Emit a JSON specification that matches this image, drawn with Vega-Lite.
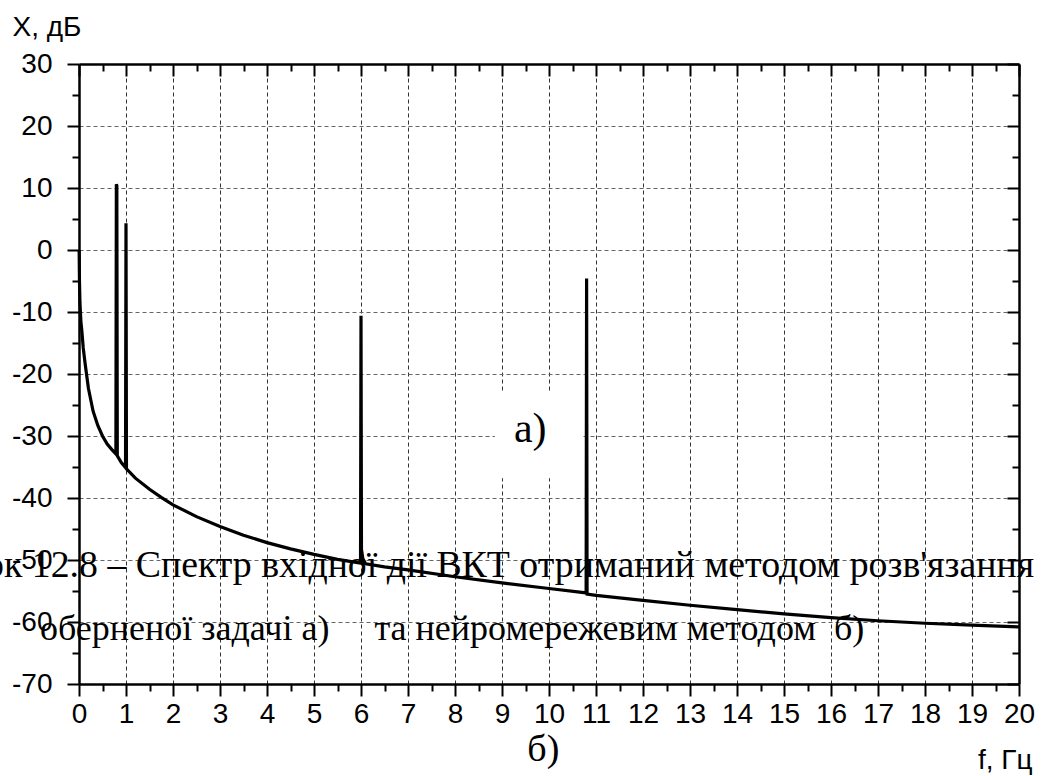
{
  "$schema": "https://vega.github.io/schema/vega-lite/v6.json",
  "autosize": "none",
  "width": 940,
  "height": 620,
  "padding": {"left": 79, "top": 64, "right": 27, "bottom": 92},
  "background": "white",
  "config": {"view": {"stroke": null}, "font": "Liberation Sans"},
  "resolve": {"axis": {"x": "independent", "y": "independent"}},
  "datasets": {
    "spectrum": [
      {"f": 0.003, "X": 0}, {"f": 0.01, "X": -5}, {"f": 0.02, "X": -8.5}, {"f": 0.04, "X": -11.5},
      {"f": 0.06, "X": -13}, {"f": 0.09, "X": -15.8}, {"f": 0.13, "X": -18.3}, {"f": 0.2, "X": -22.3},
      {"f": 0.3, "X": -26.0}, {"f": 0.4, "X": -28.3}, {"f": 0.5, "X": -30.0}, {"f": 0.6, "X": -31.3},
      {"f": 0.7, "X": -32.2}, {"f": 0.785, "X": -32.9}, {"f": 0.795, "X": 10.6}, {"f": 0.805, "X": 10.4},
      {"f": 0.815, "X": -33.2}, {"f": 0.9, "X": -34.3}, {"f": 0.99, "X": -35.1}, {"f": 1.0, "X": 4.3},
      {"f": 1.01, "X": -35.3}, {"f": 1.2, "X": -36.8}, {"f": 1.5, "X": -38.6}, {"f": 1.75, "X": -39.9},
      {"f": 2.0, "X": -41.1}, {"f": 2.5, "X": -43.0}, {"f": 3.0, "X": -44.6}, {"f": 3.5, "X": -46.0},
      {"f": 4.0, "X": -47.2}, {"f": 4.5, "X": -48.2}, {"f": 5.0, "X": -49.1}, {"f": 5.5, "X": -49.9},
      {"f": 5.99, "X": -50.5}, {"f": 6.0, "X": -10.6}, {"f": 6.01, "X": -48.3}, {"f": 6.04, "X": -49.8},
      {"f": 6.1, "X": -50.6}, {"f": 6.5, "X": -51.1}, {"f": 7.0, "X": -51.6}, {"f": 8.0, "X": -52.7},
      {"f": 9.0, "X": -53.7}, {"f": 10.0, "X": -54.6}, {"f": 10.79, "X": -55.3}, {"f": 10.8, "X": -4.6},
      {"f": 10.81, "X": -55.5}, {"f": 11.0, "X": -55.7}, {"f": 12.0, "X": -56.5}, {"f": 13.0, "X": -57.3},
      {"f": 14.0, "X": -58.0}, {"f": 15.0, "X": -58.7}, {"f": 16.0, "X": -59.3}, {"f": 17.0, "X": -59.8},
      {"f": 18.0, "X": -60.2}, {"f": 19.0, "X": -60.5}, {"f": 20.0, "X": -60.8}
    ],
    "box": [{"x1": 8.85, "x2": 10.72, "y1": -23.0, "y2": -36.8}],
    "caption": [
      {"f": 20.32, "X": -52.7, "label": "Рисунок 12.8 – Спектр вхідної дії ВКТ отриманий методом розв'язання"}
    ],
    "caption2": [
      {"f": -0.83, "X": -62.9, "label": "оберненої задачі а)\u00a0\u00a0\u00a0\u00a0 та нейромережевим методом\u00a0 б)"}
    ],
    "markA": [{"f": 9.6, "X": -31.0, "label": "а)"}],
    "markB": [{"f": 9.88, "X": -82.4, "label": "б)"}]
  },
  "layer": [
    {
      "data": {"name": "box"},
      "mark": {"type": "rect", "fill": "white", "stroke": null},
      "encoding": {
        "x": {"field": "x1", "type": "quantitative", "scale": {"domain": [0, 20], "nice": false, "zero": false},
          "axis": {
            "orient": "top", "values": [0,1,2,3,4,5,6,7,8,9,10,11,12,13,14,15,16,17,18,19,20],
            "labels": false, "title": null, "grid": false,
            "domain": true, "domainColor": "black", "domainWidth": 2.5,
            "ticks": true, "tickColor": "black", "tickWidth": 2, "tickSize": -12
          }},
        "x2": {"field": "x2"},
        "y": {"field": "y1", "type": "quantitative", "scale": {"domain": [-70, 30], "nice": false, "zero": false},
          "axis": {
            "orient": "right", "values": [-70,-60,-50,-40,-30,-20,-10,0,10,20,30],
            "labels": false, "title": null, "grid": false,
            "domain": true, "domainColor": "black", "domainWidth": 2.5,
            "ticks": true, "tickColor": "black", "tickWidth": 2, "tickSize": -12
          }},
        "y2": {"field": "y2"}
      }
    },
    {
      "data": {"name": "caption"},
      "mark": {"type": "text", "font": "Liberation Serif", "fontSize": 37.8, "align": "right", "baseline": "alphabetic", "color": "black", "clip": false},
      "encoding": {
        "x": {"field": "f", "type": "quantitative", "scale": {"domain": [0, 20], "nice": false, "zero": false},
          "axis": {
            "orient": "top", "values": [0.5,1.5,2.5,3.5,4.5,5.5,6.5,7.5,8.5,9.5,10.5,11.5,12.5,13.5,14.5,15.5,16.5,17.5,18.5,19.5],
            "labels": false, "title": null, "grid": false, "domain": false,
            "ticks": true, "tickColor": "black", "tickWidth": 2, "tickSize": -7
          }},
        "y": {"field": "X", "type": "quantitative", "scale": {"domain": [-70, 30], "nice": false, "zero": false},
          "axis": {
            "orient": "right", "values": [-65,-55,-45,-35,-25,-15,-5,5,15,25],
            "labels": false, "title": null, "grid": false, "domain": false,
            "ticks": true, "tickColor": "black", "tickWidth": 2, "tickSize": -7
          }},
        "text": {"field": "label"}
      }
    },
    {
      "data": {"name": "caption2"},
      "mark": {"type": "text", "font": "Liberation Serif", "fontSize": 36, "align": "left", "baseline": "alphabetic", "color": "black", "clip": false},
      "encoding": {
        "x": {"field": "f", "type": "quantitative", "scale": {"domain": [0, 20], "nice": false, "zero": false},
          "axis": {
            "orient": "bottom", "values": [0.5,1.5,2.5,3.5,4.5,5.5,6.5,7.5,8.5,9.5,10.5,11.5,12.5,13.5,14.5,15.5,16.5,17.5,18.5,19.5],
            "labels": false, "title": null, "grid": false, "domain": false,
            "ticks": true, "tickColor": "black", "tickWidth": 2, "tickSize": 7
          }},
        "y": {"field": "X", "type": "quantitative", "scale": {"domain": [-70, 30], "nice": false, "zero": false},
          "axis": {
            "orient": "left", "values": [-65,-55,-45,-35,-25,-15,-5,5,15,25],
            "labels": false, "title": null, "grid": false, "domain": false,
            "ticks": true, "tickColor": "black", "tickWidth": 2, "tickSize": 7
          }},
        "text": {"field": "label"}
      }
    },
    {
      "data": {"name": "markA"},
      "mark": {"type": "text", "font": "Liberation Serif", "fontSize": 42, "align": "center", "baseline": "alphabetic", "color": "black"},
      "encoding": {
        "x": {"field": "f", "type": "quantitative", "scale": {"domain": [0, 20], "nice": false, "zero": false}, "axis": null},
        "y": {"field": "X", "type": "quantitative", "scale": {"domain": [-70, 30], "nice": false, "zero": false}, "axis": null},
        "text": {"field": "label"}
      }
    },
    {
      "data": {"name": "markB"},
      "mark": {"type": "text", "font": "Liberation Serif", "fontSize": 38, "align": "center", "baseline": "alphabetic", "color": "black", "clip": false},
      "encoding": {
        "x": {"field": "f", "type": "quantitative", "scale": {"domain": [0, 20], "nice": false, "zero": false}, "axis": null},
        "y": {"field": "X", "type": "quantitative", "scale": {"domain": [-70, 30], "nice": false, "zero": false}, "axis": null},
        "text": {"field": "label"}
      }
    },
    {
      "data": {"name": "spectrum"},
      "mark": {"type": "line", "color": "black", "strokeWidth": 3.2, "interpolate": "linear", "strokeJoin": "miter"},
      "encoding": {
        "x": {"field": "f", "type": "quantitative", "scale": {"domain": [0, 20], "nice": false, "zero": false},
          "axis": {
            "orient": "bottom", "values": [0,1,2,3,4,5,6,7,8,9,10,11,12,13,14,15,16,17,18,19,20],
            "labelExpr": "'' + datum.value",
            "labelFont": "Liberation Sans", "labelFontSize": 28, "labelColor": "black",
            "labelPadding": 4, "labelOverlap": false, "labelFlush": false, "labelBound": false,
            "domain": true, "domainColor": "black", "domainWidth": 2.5,
            "ticks": true, "tickColor": "black", "tickWidth": 2, "tickSize": 12,
            "grid": true, "gridColor": "#333333", "gridWidth": 1, "gridDash": [4, 3],
            "gridOpacity": {"condition": {"test": "datum.value > 0 && datum.value < 20", "value": 1}, "value": 0},
            "title": "f, Гц", "titleFont": "Liberation Sans", "titleFontSize": 28, "titleFontWeight": "normal", "titleColor": "black",
            "titleAngle": 0, "titleAlign": "right", "titleBaseline": "alphabetic", "titleX": 953, "titleY": 84
          }},
        "y": {"field": "X", "type": "quantitative", "scale": {"domain": [-70, 30], "nice": false, "zero": false},
          "axis": {
            "orient": "left", "values": [-70,-60,-50,-40,-30,-20,-10,0,10,20,30],
            "labelExpr": "'' + datum.value",
            "labelFont": "Liberation Sans", "labelFontSize": 28, "labelColor": "black",
            "labelPadding": 15, "labelOverlap": false, "labelFlush": false, "labelBound": false,
            "domain": true, "domainColor": "black", "domainWidth": 2.5,
            "ticks": true, "tickColor": "black", "tickWidth": 2, "tickSize": 12,
            "grid": true, "gridColor": "#666666", "gridWidth": 1, "gridDash": [4, 3],
            "gridOpacity": {"condition": {"test": "datum.value > -70 && datum.value < 30", "value": 1}, "value": 0},
            "title": "X, дБ", "titleFont": "Liberation Sans", "titleFontSize": 28, "titleFontWeight": "normal", "titleColor": "black",
            "titleAngle": 0, "titleAlign": "left", "titleBaseline": "alphabetic", "titleX": -67, "titleY": -29
          }}
      }
    }
  ]
}
